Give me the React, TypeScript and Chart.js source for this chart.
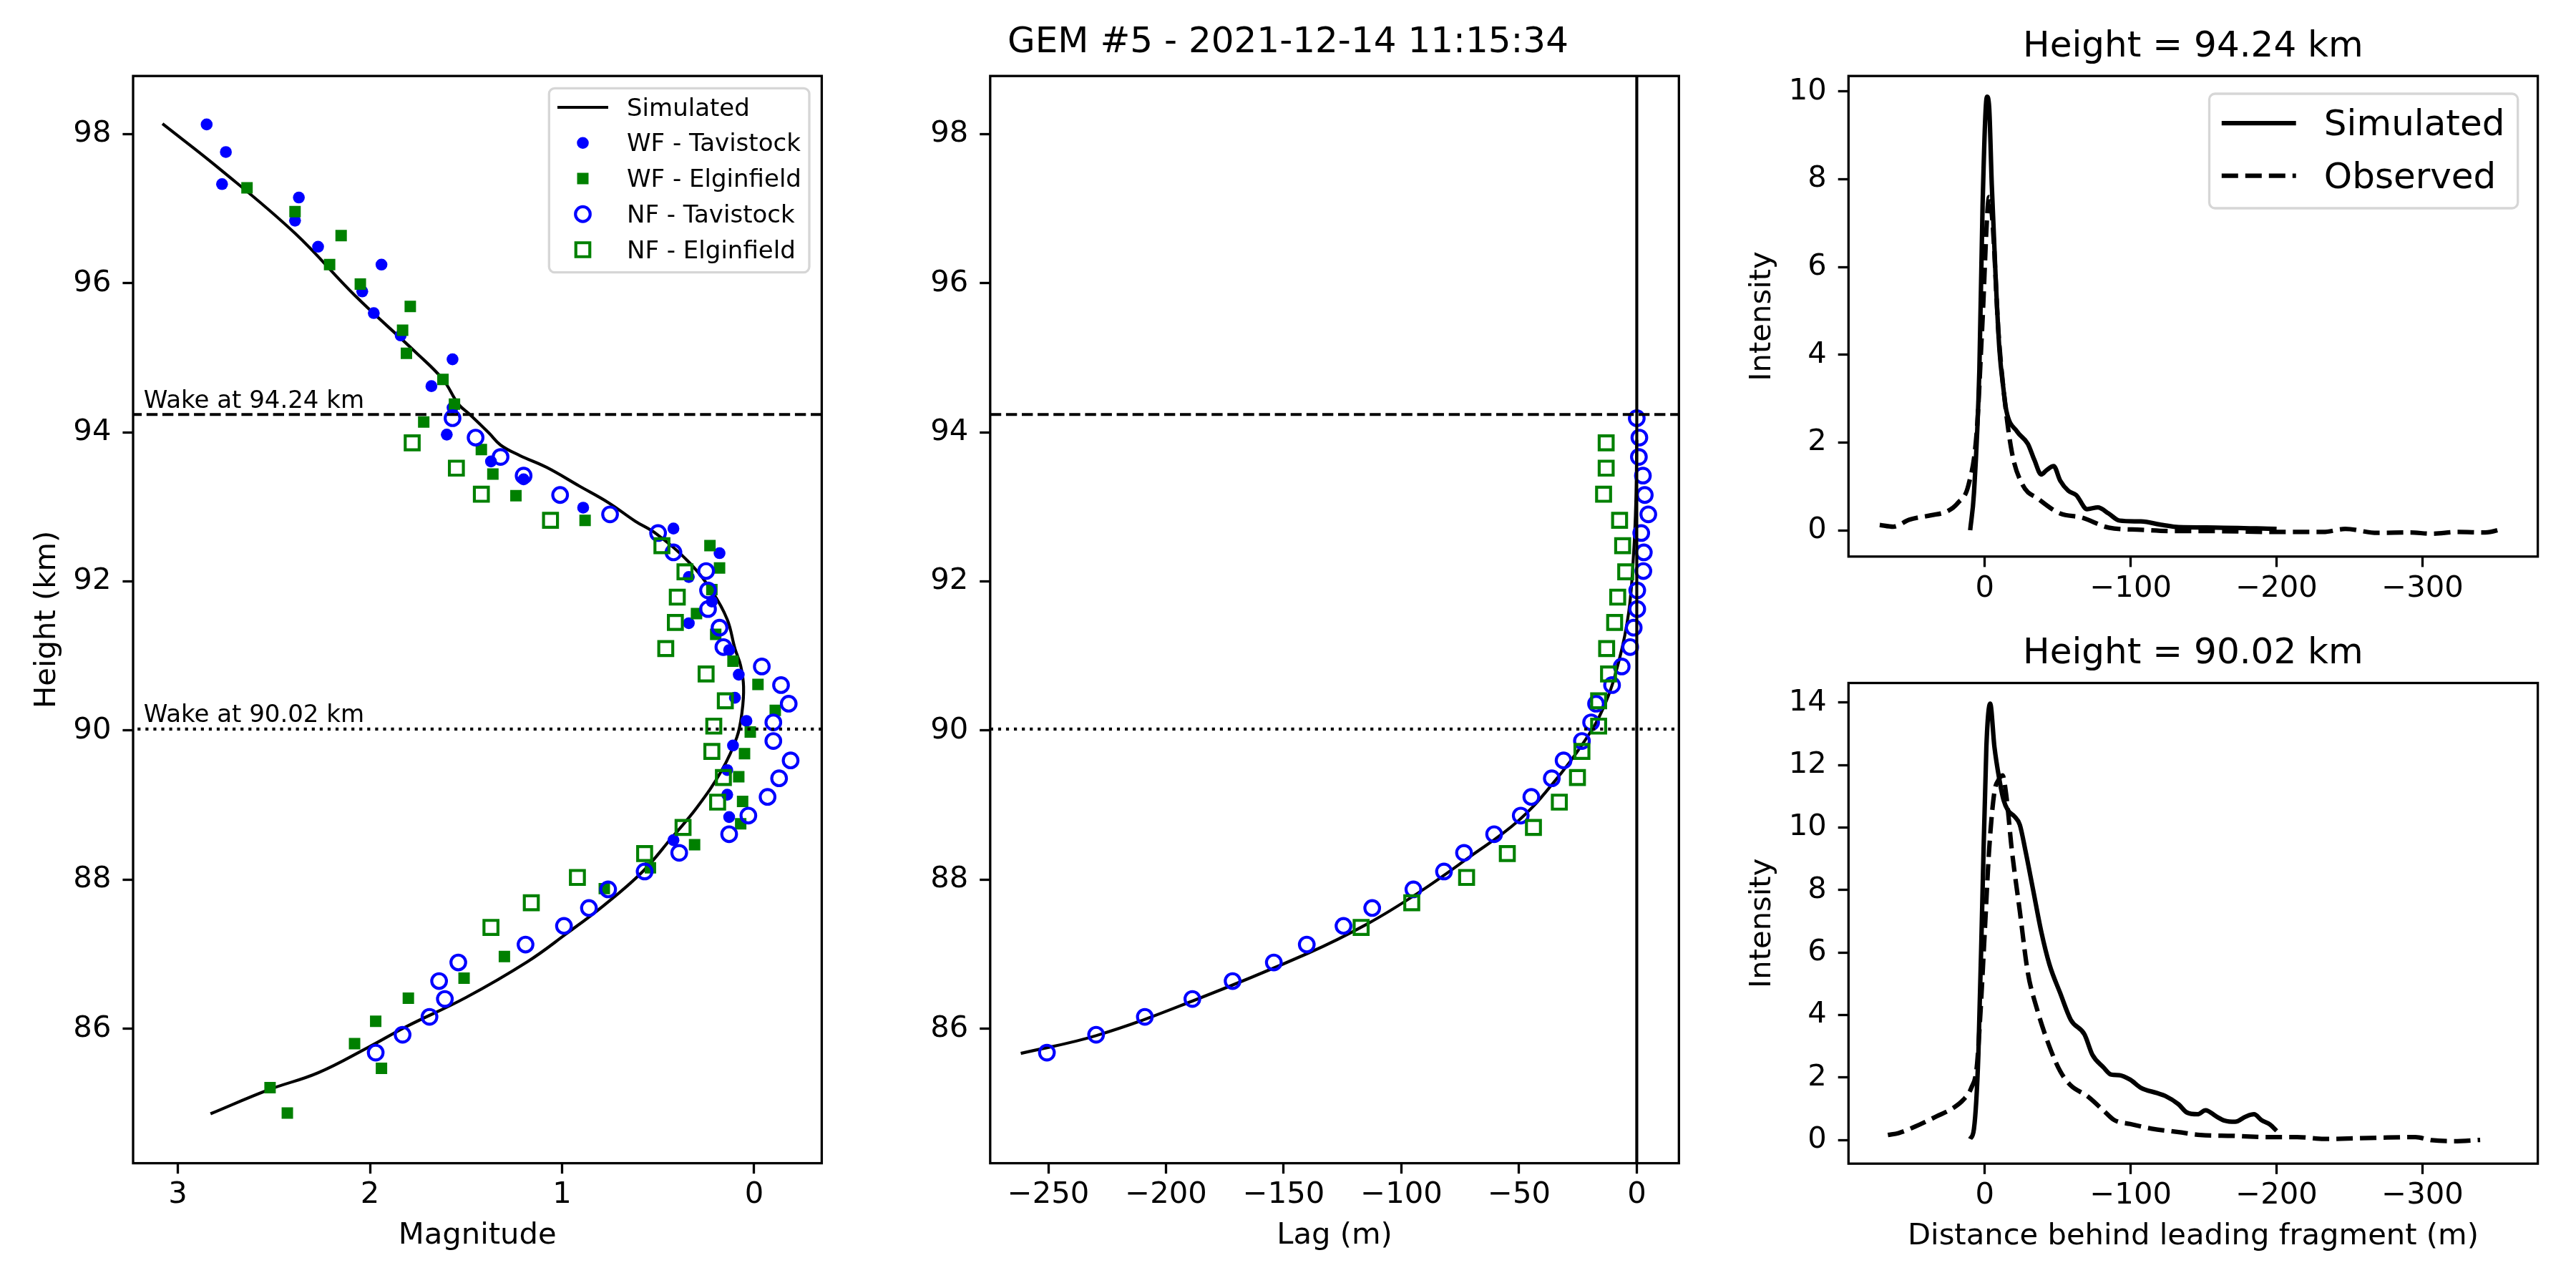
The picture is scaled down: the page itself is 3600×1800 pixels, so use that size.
import React, { useEffect, useRef } from 'react';
import { Chart, registerables } from 'chart.js';

Chart.register(...registerables);
Chart.defaults.font.family = "'DejaVu Sans', sans-serif";
Chart.defaults.color = '#000';

// ---------- shared ----------
const heightTicks = [86, 88, 90, 92, 94, 96, 98];
const wakeHeights = [94.24, 90.02];
const heightRange = [84.197, 98.78];

// ---------- left panel: magnitude ----------
const magTicks = [3, 2, 1, 0];
const magRange = [-0.352, 3.233];

const simMag = [3.08, 2.79, 2.39, 2.08, 1.76, 1.62, 1.54, 1.48, 1.38, 1.32, 1.22, 1.08, 0.91, 0.76, 0.62, 0.51, 0.34, 0.22, 0.14, 0.1, 0.07, 0.055, 0.063, 0.09, 0.17, 0.3, 0.43, 0.58, 0.78, 0.98, 1.18, 1.5, 1.81, 2.01, 2.27, 2.53, 2.83];
const simMagHeight = [98.14, 97.55, 96.67, 95.84, 95.07, 94.71, 94.38, 94.24, 93.99, 93.83, 93.69, 93.53, 93.28, 93.06, 92.81, 92.64, 92.26, 91.87, 91.49, 91.1, 90.87, 90.59, 90.25, 89.91, 89.46, 88.96, 88.56, 88.11, 87.66, 87.27, 86.9, 86.42, 86.03, 85.75, 85.41, 85.18, 84.86];

const wfTavistockMag = [2.85, 2.75, 2.77, 2.37, 2.39, 2.27, 1.94, 2.04, 1.98, 1.84, 1.57, 1.68, 1.57, 1.6, 1.37, 1.2, 0.89, 0.42, 0.18, 0.34, 0.22, 0.34, 0.13, 0.08, 0.1, 0.04, 0.11, 0.14, 0.14, 0.13, 0.42];
const wfTavistockHeight = [98.13, 97.76, 97.33, 97.15, 96.84, 96.49, 96.25, 95.89, 95.6, 95.3, 94.98, 94.62, 94.33, 93.97, 93.61, 93.37, 92.99, 92.71, 92.38, 92.06, 91.73, 91.44, 91.08, 90.75, 90.44, 90.13, 89.8, 89.47, 89.14, 88.84, 88.53];

const wfElginfieldMag = [2.64, 2.39, 2.15, 2.21, 2.05, 1.79, 1.83, 1.81, 1.62, 1.56, 1.72, 1.42, 1.36, 1.24, 0.88, 0.23, 0.18, 0.22, 0.3, 0.2, 0.11, -0.02, -0.11, 0.02, 0.05, 0.08, 0.06, 0.07, 0.31, 0.54, 0.78, 1.3, 1.51, 1.8, 1.97, 2.08, 1.94, 2.52, 2.43];
const wfElginfieldHeight = [97.28, 96.96, 96.64, 96.25, 95.99, 95.69, 95.37, 95.06, 94.71, 94.38, 94.14, 93.77, 93.44, 93.15, 92.82, 92.48, 92.18, 91.89, 91.57, 91.29, 90.93, 90.62, 90.27, 89.98, 89.69, 89.38, 89.05, 88.75, 88.47, 88.16, 87.88, 86.97, 86.68, 86.41, 86.1, 85.8, 85.47, 85.21, 84.87];

const nfTavistockMag = [1.57, 1.45, 1.32, 1.2, 1.01, 0.75, 0.5, 0.42, 0.25, 0.24, 0.24, 0.18, 0.16, -0.04, -0.14, -0.18, -0.1, -0.1, -0.19, -0.13, -0.07, 0.03, 0.13, 0.39, 0.57, 0.76, 0.86, 0.99, 1.19, 1.54, 1.64, 1.61, 1.69, 1.83, 1.97];
const nfTavistockHeight = [94.19, 93.93, 93.67, 93.42, 93.16, 92.9, 92.65, 92.39, 92.14, 91.88, 91.63, 91.38, 91.12, 90.86, 90.61, 90.36, 90.11, 89.86, 89.6, 89.36, 89.11, 88.86, 88.61, 88.36, 88.11, 87.87, 87.62, 87.38, 87.13, 86.89, 86.64, 86.4, 86.16, 85.92, 85.68];

const nfElginfieldMag = [1.78, 1.55, 1.42, 1.06, 0.48, 0.36, 0.4, 0.41, 0.46, 0.25, 0.15, 0.21, 0.22, 0.16, 0.19, 0.37, 0.57, 0.92, 1.16, 1.37];
const nfElginfieldHeight = [93.86, 93.52, 93.17, 92.82, 92.48, 92.13, 91.79, 91.45, 91.1, 90.76, 90.4, 90.06, 89.72, 89.37, 89.04, 88.7, 88.35, 88.03, 87.69, 87.36];

// ---------- middle panel: lag ----------
const lagTicks = [-250, -200, -150, -100, -50, 0];
const lagRange = [-274.7, 17.9];

const simLag = [-261.7, -229.5, -189, -139.9, -114.3, -93, -71.7, -50.3, -35.4, -22.6, -14.1, -7.7, -3.4, -1.3, -0.4, 0];
const simLagHeight = [85.67, 85.91, 86.37, 87.01, 87.41, 87.82, 88.29, 88.79, 89.3, 89.84, 90.31, 90.92, 91.59, 92.4, 93.07, 93.9];

const nfTavistockLag = [0, 1.1, 0.9, 2.6, 3.4, 4.9, 1.9, 3.0, 2.8, 0.2, 0.2, -1.3, -2.8, -6.4, -10.5, -17.3, -19.4, -23.3, -31.1, -36.1, -44.8, -49.3, -60.6, -73.4, -81.9, -94.9, -112.4, -124.6, -140.2, -154.2, -171.7, -188.8, -209, -229.7, -250.6];
const nfElginfieldLag = [-13, -13, -14.1, -7.3, -6, -4.7, -8.1, -9.4, -12.8, -12, -16.2, -16.2, -23.3, -25.2, -32.9, -43.9, -55, -72.3, -95.6, -117.1];

// ---------- right panels: intensity profiles ----------
const distTicks = [0, -100, -200, -300];
const distRange = [-379, 93.4];
const intensityTopTicks = [0, 2, 4, 6, 8, 10];
const intensityTopRange = [-0.6, 10.35];
const intensityBottomTicks = [0, 2, 4, 6, 8, 10, 12, 14];
const intensityBottomRange = [-0.76, 14.63];

const simTopDist = [10, 7.4, 3.7, 1.5, -1.5, -3, -4.8, -7.4, -10, -12.9, -14.8, -22.1, -29.5, -34, -38.7, -42.4, -47.2, -51.7, -57.2, -62.7, -70.1, -77.5, -84.9, -92.3, -107, -121.8, -132.8, -158.7, -200];
const simTopIntensity = [0, 0.85, 3.66, 7.4, 9.88, 9.64, 7.87, 5.8, 4.13, 3.19, 2.72, 2.25, 1.97, 1.6, 1.27, 1.37, 1.46, 1.13, 0.9, 0.8, 0.48, 0.52, 0.38, 0.22, 0.2, 0.12, 0.07, 0.06, 0.03];
const obsTopDist = [72, 62.7, 51.7, 36.9, 25.8, 18.5, 11.1, 5.5, 1.8, -3, -5.5, -9.2, -12.9, -18.5, -25.8, -36.9, -51.7, -66.4, -84.9, -107, -129, -158.7, -195.6, -232, -247, -269, -291.5, -306, -324.7, -343, -356];
const obsTopIntensity = [0.12, 0.08, 0.24, 0.34, 0.43, 0.62, 1.04, 2.25, 4.6, 7.59, 6.93, 4.6, 3.19, 1.79, 1.04, 0.71, 0.38, 0.29, 0.06, 0.01, -0.02, -0.02, -0.04, -0.04, 0.03, -0.06, -0.05, -0.08, -0.04, -0.05, 0.04];

const simBottomDist = [10, 7.4, 4.4, 1.5, -1.1, -3.7, -6.6, -10, -12.9, -15.9, -20.3, -24, -27.7, -33.2, -38.7, -44.3, -51.7, -59, -68.3, -73.8, -81.2, -86.7, -92.3, -99.6, -107, -118, -123.6, -132.8, -138.4, -145.8, -151.3, -158.7, -164.2, -171.6, -179, -184.5, -190, -195.6, -200];
const simBottomIntensity = [0.03, 0.36, 2.72, 7.99, 12.59, 13.97, 12.59, 11.54, 10.88, 10.55, 10.36, 10.09, 9.3, 7.99, 6.67, 5.62, 4.7, 3.84, 3.38, 2.72, 2.33, 2.09, 2.07, 1.93, 1.67, 1.5, 1.41, 1.14, 0.88, 0.82, 0.95, 0.75, 0.62, 0.58, 0.75, 0.82, 0.62, 0.49, 0.29];
const obsBottomDist = [66.4, 59, 48, 33.2, 22.1, 14.8, 9.2, 5.5, 3, 0, -3, -6.6, -9.6, -12.2, -14.8, -18.5, -24, -29.5, -35.1, -44.3, -51.7, -59, -70.1, -81.2, -88.6, -99.6, -114.4, -132.8, -147.6, -169.7, -195.6, -214, -232.5, -269.4, -295.2, -306.3, -321, -339.5];
const obsBottomIntensity = [0.16, 0.22, 0.42, 0.75, 1.01, 1.28, 1.67, 2.33, 4.04, 6.67, 9.3, 11.14, 11.54, 11.67, 11.01, 9.3, 7.33, 5.36, 4.3, 2.99, 2.2, 1.74, 1.41, 0.95, 0.64, 0.51, 0.36, 0.25, 0.16, 0.13, 0.09, 0.09, 0.03, 0.07, 0.09, -0.01, -0.04, 0];

// ---------- styling helpers ----------
const FONT = "'DejaVu Sans'";
const TICK_FONT = 41.7;
const LW = 4.17;
const BLUE = '#0000ff';
const GREEN = '#008000';

const pts = (xs: number[], ys: number[]) => xs.map((x, i) => ({ x, y: ys[i] }));
const fmt = (v: number) => (v < 0 ? '\u2212' + Math.abs(v) : String(v));

interface AxisOpts {
  range: number[];
  ticks: number[];
  horizontal: boolean;
  size: number;
  reverse?: boolean;
  title?: string;
  titlePad?: number;
}

function axis(o: AxisOpts) {
  return {
    type: 'linear',
    min: o.range[0],
    max: o.range[1],
    reverse: !!o.reverse,
    afterBuildTicks: (s: any) => {
      s.ticks = o.ticks.map((value) => ({ value }));
    },
    afterFit: (s: any) => {
      if (o.horizontal) s.height = o.size;
      else s.width = o.size;
      s.paddingLeft = 0;
      s.paddingRight = 0;
      s.paddingTop = 0;
      s.paddingBottom = 0;
    },
    grid: { display: true, drawOnChartArea: false, drawTicks: true, tickLength: 14.6, tickWidth: 3.3, tickColor: '#000' },
    border: { display: false },
    ticks: {
      font: { size: TICK_FONT },
      color: '#000',
      padding: o.horizontal ? 5.4 : 16,
      maxRotation: 0,
      autoSkip: false,
      callback: (v: any) => fmt(Number(v)),
    },
    title: o.title
      ? {
          display: true,
          text: o.title,
          font: { size: TICK_FONT },
          color: '#000',
          padding: o.horizontal ? { top: 0, bottom: o.titlePad } : { top: o.titlePad, bottom: 0 },
        }
      : { display: false },
  };
}

const lineSet = (label: string, data: any[], width: number, order: number, extra: any = {}) => ({
  label,
  data,
  showLine: true,
  borderColor: '#000',
  borderWidth: width,
  pointRadius: 0,
  pointHoverRadius: 0,
  fill: false,
  order,
  ...extra,
});

const markerSet = (label: string, data: any[], style: string, r: number, color: string, open: boolean, order: number) => ({
  label,
  data,
  showLine: false,
  pointStyle: style,
  pointRadius: r,
  pointHoverRadius: r,
  pointBackgroundColor: open ? 'rgba(0,0,0,0)' : color,
  pointBorderColor: color,
  pointBorderWidth: open ? LW : 0,
  backgroundColor: open ? 'rgba(0,0,0,0)' : color,
  borderColor: color,
  order,
});

const hline = (y: number, xr: number[], dash: number[], order: number) =>
  lineSet('', [{ x: xr[0], y }, { x: xr[1], y }], LW, order, { borderDash: dash });

function drawMarker(ctx: CanvasRenderingContext2D, ds: any, x: number, y: number) {
  const r = ds.pointRadius;
  ctx.beginPath();
  if (ds.pointStyle === 'rect') {
    const h = r * Math.SQRT1_2;
    ctx.rect(x - h, y - h, 2 * h, 2 * h);
  } else {
    ctx.arc(x, y, r, 0, Math.PI * 2);
  }
  ctx.fillStyle = ds.pointBackgroundColor;
  ctx.fill();
  if (ds.pointBorderWidth > 0) {
    ctx.lineWidth = ds.pointBorderWidth;
    ctx.strokeStyle = ds.pointBorderColor;
    ctx.stroke();
  }
}

// full box of spines, like matplotlib
const spinesPlugin = {
  id: 'spines',
  afterDraw(chart: any) {
    const { ctx, chartArea: a } = chart;
    ctx.save();
    ctx.strokeStyle = '#000';
    ctx.lineWidth = 3.3;
    ctx.strokeRect(a.left, a.top, a.right - a.left, a.bottom - a.top);
    ctx.restore();
  },
};

interface LegendSpec {
  right: number;
  top: number;
  w: number;
  h: number;
  row0: number;
  rowGap: number;
  hx0: number;
  hx1: number;
  tx: number;
  font: number;
  base: number;
  items: number[];
}

const legendPlugin = (s: LegendSpec) => ({
  id: 'mplLegend',
  afterDraw(chart: any) {
    const { ctx, chartArea: a } = chart;
    const x0 = a.right - s.right - s.w;
    const y0 = a.top + s.top;
    ctx.save();
    ctx.beginPath();
    ctx.roundRect(x0, y0, s.w, s.h, 8);
    ctx.fillStyle = 'rgba(255,255,255,0.8)';
    ctx.fill();
    ctx.lineWidth = 3.3;
    ctx.strokeStyle = '#d6d6d6';
    ctx.stroke();
    s.items.forEach((di, i) => {
      const ds = chart.data.datasets[di];
      const cy = y0 + s.row0 + i * s.rowGap;
      if (ds.showLine) {
        ctx.beginPath();
        ctx.setLineDash(ds.borderDash || []);
        ctx.lineWidth = ds.borderWidth;
        ctx.strokeStyle = ds.borderColor;
        ctx.moveTo(x0 + s.hx0, cy);
        ctx.lineTo(x0 + s.hx1, cy);
        ctx.stroke();
        ctx.setLineDash([]);
      } else {
        drawMarker(ctx, ds, x0 + (s.hx0 + s.hx1) / 2, cy);
      }
      ctx.fillStyle = '#000';
      ctx.font = `${s.font}px ${FONT}`;
      ctx.textAlign = 'left';
      ctx.textBaseline = 'alphabetic';
      ctx.fillText(ds.label, x0 + s.tx, cy + s.base);
    });
    ctx.restore();
  },
});

const wakeLabelPlugin = {
  id: 'wakeLabels',
  afterDatasetsDraw(chart: any) {
    const { ctx, chartArea: a, scales } = chart;
    ctx.save();
    ctx.font = `34px ${FONT}`;
    ctx.fillStyle = '#000';
    ctx.textAlign = 'left';
    ctx.textBaseline = 'alphabetic';
    wakeHeights.forEach((h) => {
      ctx.fillText(`Wake at ${h.toFixed(2)} km`, a.left + 14.7, scales.y.getPixelForValue(h) - 9.5);
    });
    ctx.restore();
  },
};

const baseOptions = (extra: any) => ({
  animation: false,
  responsive: false,
  devicePixelRatio: 1,
  events: [],
  ...extra,
});

// ---------- configs ----------
function magnitudeConfig(): any {
  return {
    type: 'scatter',
    data: {
      datasets: [
        lineSet('Simulated', pts(simMag, simMagHeight), LW, 10, { tension: 0.4 }),
        markerSet('WF - Tavistock', pts(wfTavistockMag, wfTavistockHeight), 'circle', 8.3, BLUE, false, 9),
        markerSet('WF - Elginfield', pts(wfElginfieldMag, wfElginfieldHeight), 'rect', 11.3, GREEN, false, 8),
        markerSet('NF - Tavistock', pts(nfTavistockMag, nfTavistockHeight), 'circle', 10.3, BLUE, true, 7),
        markerSet('NF - Elginfield', pts(nfElginfieldMag, nfElginfieldHeight), 'rect', 13.8, GREEN, true, 6),
        hline(wakeHeights[0], magRange, [15.4, 6.7], 2),
        hline(wakeHeights[1], magRange, [4.17, 6.9], 1),
      ],
    },
    options: baseOptions({
      layout: { autoPadding: false, padding: { left: 0, top: 12.2, right: 11.6, bottom: 0 } },
      scales: {
        x: axis({ range: magRange, ticks: magTicks, horizontal: true, size: 130.4, reverse: true, title: 'Magnitude', titlePad: 3.4 }),
        y: axis({ range: heightRange, ticks: heightTicks, horizontal: false, size: 146, title: 'Height (km)', titlePad: 1 }),
      },
      plugins: { legend: { display: false }, tooltip: { enabled: false }, title: { display: false } },
    }),
    plugins: [
      spinesPlugin,
      wakeLabelPlugin,
      legendPlugin({ right: 17.4, top: 17.1, w: 363.7, h: 257.4, row0: 26.7, rowGap: 49.75, hx0: 11.7, hx1: 82.7, tx: 108.7, font: 34, base: 11.7, items: [0, 1, 2, 3, 4] }),
    ],
  };
}

function lagConfig(): any {
  return {
    type: 'scatter',
    data: {
      datasets: [
        lineSet('Simulated', pts(simLag, simLagHeight), LW, 10, { tension: 0.4 }),
        markerSet('NF - Tavistock', pts(nfTavistockLag, nfTavistockHeight), 'circle', 10.3, BLUE, true, 7),
        markerSet('NF - Elginfield', pts(nfElginfieldLag, nfElginfieldHeight), 'rect', 13.8, GREEN, true, 6),
        hline(wakeHeights[0], lagRange, [15.4, 6.7], 2),
        hline(wakeHeights[1], lagRange, [4.17, 6.9], 1),
        lineSet('', [{ x: 0, y: heightRange[0] }, { x: 0, y: heightRange[1] }], LW, 3),
      ],
    },
    options: baseOptions({
      layout: { autoPadding: false, padding: { left: 0, top: 12.2, right: 13.7, bottom: 0 } },
      scales: {
        x: axis({ range: lagRange, ticks: lagTicks, horizontal: true, size: 130.4, title: 'Lag (m)', titlePad: 3.4 }),
        y: axis({ range: heightRange, ticks: heightTicks, horizontal: false, size: 145.8 }),
      },
      plugins: { legend: { display: false }, tooltip: { enabled: false }, title: { display: false } },
    }),
    plugins: [spinesPlugin],
  };
}

function profileConfig(which: 'top' | 'bottom'): any {
  const top = which === 'top';
  const sim = top ? pts(simTopDist, simTopIntensity) : pts(simBottomDist, simBottomIntensity);
  const obs = top ? pts(obsTopDist, obsTopIntensity) : pts(obsBottomDist, obsBottomIntensity);
  const plugins: any[] = [spinesPlugin];
  if (top) {
    plugins.push(
      legendPlugin({ right: 27.9, top: 24.8, w: 431.2, h: 160, row0: 41, rowGap: 73.7, hx0: 17.3, hx1: 121.2, tx: 160.3, font: 50, base: 17.4, items: [0, 1] })
    );
  }
  return {
    type: 'scatter',
    data: {
      datasets: [
        lineSet('Simulated', sim, 6.25, 2, { cubicInterpolationMode: 'monotone' }),
        lineSet('Observed', obs, 6.25, 1, { cubicInterpolationMode: 'monotone', borderDash: [23, 10] }),
      ],
    },
    options: baseOptions({
      layout: { autoPadding: false, padding: { left: 0, top: 0, right: 13.4, bottom: 0 } },
      scales: {
        x: axis(
          top
            ? { range: distRange, ticks: distTicks, horizontal: true, size: 80.2, reverse: true }
            : { range: distRange, ticks: distTicks, horizontal: true, size: 129.8, reverse: true, title: 'Distance behind leading fragment (m)', titlePad: 2.8 }
        ),
        y: axis({
          range: top ? intensityTopRange : intensityBottomRange,
          ticks: top ? intensityTopTicks : intensityBottomTicks,
          horizontal: false,
          size: 146.3,
          title: 'Intensity',
          titlePad: 1.3,
        }),
      },
      plugins: {
        legend: { display: false },
        tooltip: { enabled: false },
        title: {
          display: true,
          fullSize: false,
          text: `Height = ${wakeHeights[top ? 0 : 1].toFixed(2)} km`,
          font: { size: 50, weight: 'normal' },
          color: '#000',
          padding: { top: top ? 6 : 6.3, bottom: 10.2 },
        },
      },
    }),
    plugins,
  };
}

// ---------- components ----------
interface Box {
  left: number;
  top: number;
  width: number;
  height: number;
}

const ChartPanel = ({ box, make }: { box: Box; make: () => any }) => {
  const canvasRef = useRef<HTMLCanvasElement>(null);

  useEffect(() => {
    if (!canvasRef.current) return;
    const chart = new Chart(canvasRef.current, make());
    return () => chart.destroy();
  }, [make]);

  return (
    <canvas
      ref={canvasRef}
      width={box.width}
      height={box.height}
      style={{ position: 'absolute', left: box.left, top: box.top, width: box.width, height: box.height }}
    />
  );
};

const makeTop = () => profileConfig('top');
const makeBottom = () => profileConfig('bottom');

export default function App() {
  return (
    <div style={{ position: 'absolute', left: 0, top: 0, width: 3600, height: 1800, background: '#fff', overflow: 'hidden' }}>
      <div
        style={{
          position: 'absolute',
          left: 0,
          top: 26.2,
          width: 3600,
          textAlign: 'center',
          fontFamily: FONT,
          fontSize: 50,
          lineHeight: '60px',
          color: '#000',
          whiteSpace: 'nowrap',
        }}
      >
        GEM #5 - 2021-12-14 11:15:34
      </div>
      <ChartPanel box={{ left: 40, top: 94, width: 1120, height: 1662 }} make={magnitudeConfig} />
      <ChartPanel box={{ left: 1238, top: 94, width: 1122, height: 1662 }} make={lagConfig} />
      <ChartPanel box={{ left: 2437, top: 30, width: 1123, height: 828 }} make={makeTop} />
      <ChartPanel box={{ left: 2437, top: 878, width: 1123, height: 878 }} make={makeBottom} />
    </div>
  );
}
